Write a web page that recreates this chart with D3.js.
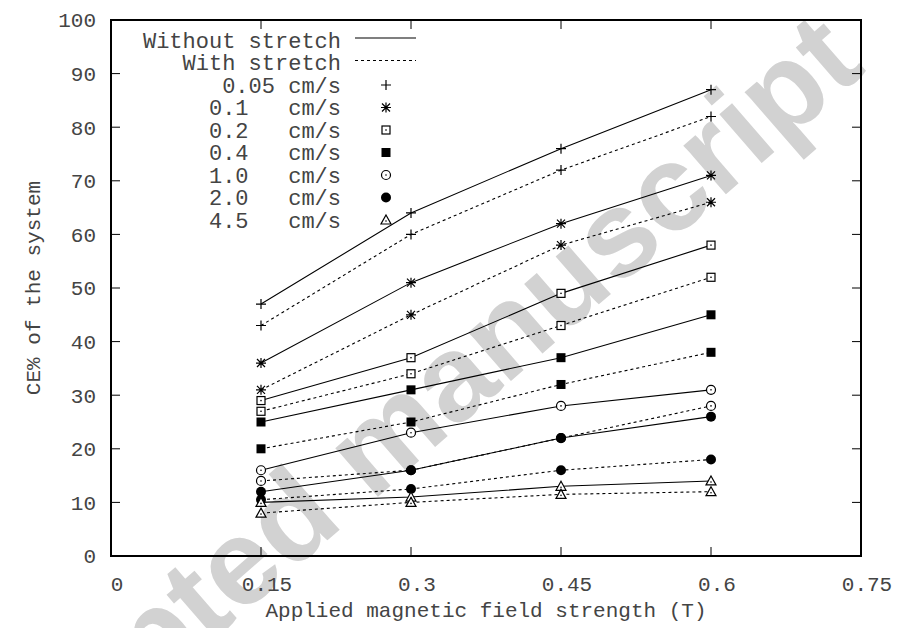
<!DOCTYPE html>
<html>
<head>
<meta charset="utf-8">
<script src="https://cdn.jsdelivr.net/npm/d3@7"></script>
<style>
  body { margin: 0; background: #fff; }
  text { font-family: "Liberation Mono", "Courier New", monospace; fill: #444; }
</style>
</head>
<body>
<div id="chart"></div>
<script>
// field strength (T)
var fields = [0.15, 0.3, 0.45, 0.6];
var speeds = ["0.05", "0.1", "0.2", "0.4", "1.0", "2.0", "4.5"];
var symbols = ["plus", "star", "square", "fsquare", "circle", "fcircle", "triangle"];

// CE% without stretch
var withoutStretch = [
  [47, 64, 76, 87],
  [36, 51, 62, 71],
  [29, 37, 49, 58],
  [25, 31, 37, 45],
  [16, 23, 28, 31],
  [12, 16, 22, 26],
  [10, 11, 13, 14]
];
// CE% with stretch
var withStretch = [
  [43, 60, 72, 82],
  [31, 45, 58, 66],
  [27, 34, 43, 52],
  [20, 25, 32, 38],
  [14, 16, 22, 28],
  [10.5, 12.5, 16, 18],
  [8, 10, 11.5, 12]
];

var xTicks = [0, 0.15, 0.3, 0.45, 0.6, 0.75];
var yTicks = [0, 10, 20, 30, 40, 50, 60, 70, 80, 90, 100];

var W = 897, H = 628;
var margin = { top: 20, right: 36, bottom: 72, left: 111 },
  width = W - margin.left - margin.right,
  height = H - margin.top - margin.bottom;

var svg = d3.select("#chart").append("svg")
  .attr("width", W)
  .attr("height", H);

// watermark behind everything
svg.append("text")
  .attr("transform", "translate(372,446) rotate(-41)")
  .attr("text-anchor", "middle")
  .attr("dominant-baseline", "central")
  .style("font-family", "'Liberation Sans', Arial, sans-serif")
  .style("font-weight", "bold")
  .style("font-size", "122px")
  .style("fill", "#d2d2d2")
  .text("Accepted manuscript");

var g = svg.append("g")
  .attr("transform", "translate(" + margin.left + "," + margin.top + ")");

var x = d3.scaleLinear().domain([0, 0.75]).range([0, width]);
var y = d3.scaleLinear().domain([0, 100]).range([height, 0]);

// ticks inward on all four sides
var tickLen = 9;
g.selectAll(".ytick").data(yTicks.slice(1, -1)).enter().append("g")
  .each(function(d) {
    var s = d3.select(this);
    s.append("line").attr("x1", 0).attr("x2", tickLen).attr("y1", y(d)).attr("y2", y(d));
    s.append("line").attr("x1", width).attr("x2", width - tickLen).attr("y1", y(d)).attr("y2", y(d));
  })
  .selectAll("line").attr("stroke", "#000");

g.selectAll(".xtick").data(xTicks.slice(1, -1)).enter().append("g")
  .each(function(d) {
    var s = d3.select(this);
    s.append("line").attr("x1", x(d)).attr("x2", x(d)).attr("y1", height).attr("y2", height - tickLen);
    s.append("line").attr("x1", x(d)).attr("x2", x(d)).attr("y1", 0).attr("y2", tickLen);
  })
  .selectAll("line").attr("stroke", "#000");

// tick labels
g.selectAll(".ylab").data(yTicks).enter().append("text")
  .attr("x", -15)
  .attr("y", d => y(d))
  .attr("dy", "0.35em")
  .attr("text-anchor", "end")
  .style("font-size", "21px")
  .text(d => d);

g.selectAll(".xlab").data(xTicks).enter().append("text")
  .attr("x", d => x(d) + 6)
  .attr("y", height + 28)
  .attr("dy", "0.35em")
  .attr("text-anchor", "middle")
  .style("font-size", "21px")
  .text(d => d);

// axis titles
g.append("text")
  .attr("x", width / 2)
  .attr("y", height + 54)
  .attr("dy", "0.35em")
  .attr("text-anchor", "middle")
  .style("font-size", "21px")
  .text("Applied magnetic field strength (T)");

g.append("text")
  .attr("transform", "translate(" + (33 - margin.left) + "," + height / 2 + ") rotate(-90)")
  .attr("dy", "0.35em")
  .attr("text-anchor", "middle")
  .style("font-size", "21px")
  .text("CE% of the system");

// marker drawing
function drawMarker(sel, type, cx, cy) {
  var m = sel.append("g").attr("transform", "translate(" + cx + "," + cy + ")");
  if (type == "plus") {
    m.append("path").attr("d", "M-5,0H5M0,-5V5").attr("stroke", "#000").attr("stroke-width", 1.2);
  } else if (type == "star") {
    m.append("path").attr("d", "M-5,0H5M0,-5V5M-4,-4L4,4M-4,4L4,-4").attr("stroke", "#000").attr("stroke-width", 1.2);
  } else if (type == "square") {
    m.append("rect").attr("x", -4).attr("y", -4).attr("width", 8).attr("height", 8)
      .attr("fill", "#fff").attr("stroke", "#000").attr("stroke-width", 1.2);
    m.append("rect").attr("x", -0.7).attr("y", -0.7).attr("width", 1.4).attr("height", 1.4).attr("fill", "#000");
  } else if (type == "fsquare") {
    m.append("rect").attr("x", -4.5).attr("y", -4.5).attr("width", 9).attr("height", 9).attr("fill", "#000");
  } else if (type == "circle") {
    m.append("circle").attr("r", 4.5).attr("fill", "#fff").attr("stroke", "#000").attr("stroke-width", 1.2);
    m.append("circle").attr("r", 0.8).attr("fill", "#000");
  } else if (type == "fcircle") {
    m.append("circle").attr("r", 5).attr("fill", "#000");
  } else if (type == "triangle") {
    m.append("path").attr("d", "M0,-5L5,4H-5Z").attr("fill", "#fff").attr("stroke", "#000").attr("stroke-width", 1.2);
    m.append("circle").attr("cy", 1).attr("r", 0.8).attr("fill", "#000");
  }
}

var line = d3.line()
  .x((d, i) => x(fields[i]))
  .y(d => y(d));

// series: draw without and with stretch for each speed
speeds.forEach(function(sp, k) {
  [[withoutStretch[k], null], [withStretch[k], "3,3"]].forEach(function(pair) {
    g.append("path")
      .datum(pair[0])
      .attr("d", line)
      .attr("fill", "none")
      .attr("stroke", "#000")
      .attr("stroke-width", 1.1)
      .attr("stroke-dasharray", pair[1]);
    pair[0].forEach(function(v, i) {
      drawMarker(g, symbols[k], x(fields[i]), y(v));
    });
  });
});

// frame
g.append("rect")
  .attr("width", width)
  .attr("height", height)
  .attr("fill", "none")
  .attr("stroke", "#000")
  .attr("stroke-width", 2);

// legend (gnuplot style, text right aligned)
var legX = 341 - margin.left, legY = 40 - margin.top, legStep = 22.5;
var legRows = [{ label: "Without stretch", kind: "solid" }, { label: "With stretch", kind: "dash" }];
speeds.forEach(function(sp, k) {
  // short speeds carry three spaces before the unit (non-breaking so they survive)
  var pad = sp.length == 4 ? "\u00A0" : "\u00A0\u00A0\u00A0";
  legRows.push({ label: sp + pad + "cm/s", kind: "mark", sym: symbols[k] });
});

var leg = g.append("g");
legRows.forEach(function(r, i) {
  var ry = legY + i * legStep;
  leg.append("text")
    .attr("x", legX)
    .attr("y", ry)
    .attr("dy", "0.35em")
    .attr("text-anchor", "end")
    .style("font-size", "22px")
    .text(r.label);
  if (r.kind == "mark") {
    drawMarker(leg, r.sym, 386 - margin.left, ry);
  } else {
    leg.append("line")
      .attr("x1", 355 - margin.left)
      .attr("x2", 416 - margin.left)
      .attr("y1", ry - 2)
      .attr("y2", ry - 2)
      .attr("stroke", "#000")
      .attr("stroke-width", 1.1)
      .attr("stroke-dasharray", r.kind == "dash" ? "3,3" : null);
  }
});
</script>
</body>
</html>
